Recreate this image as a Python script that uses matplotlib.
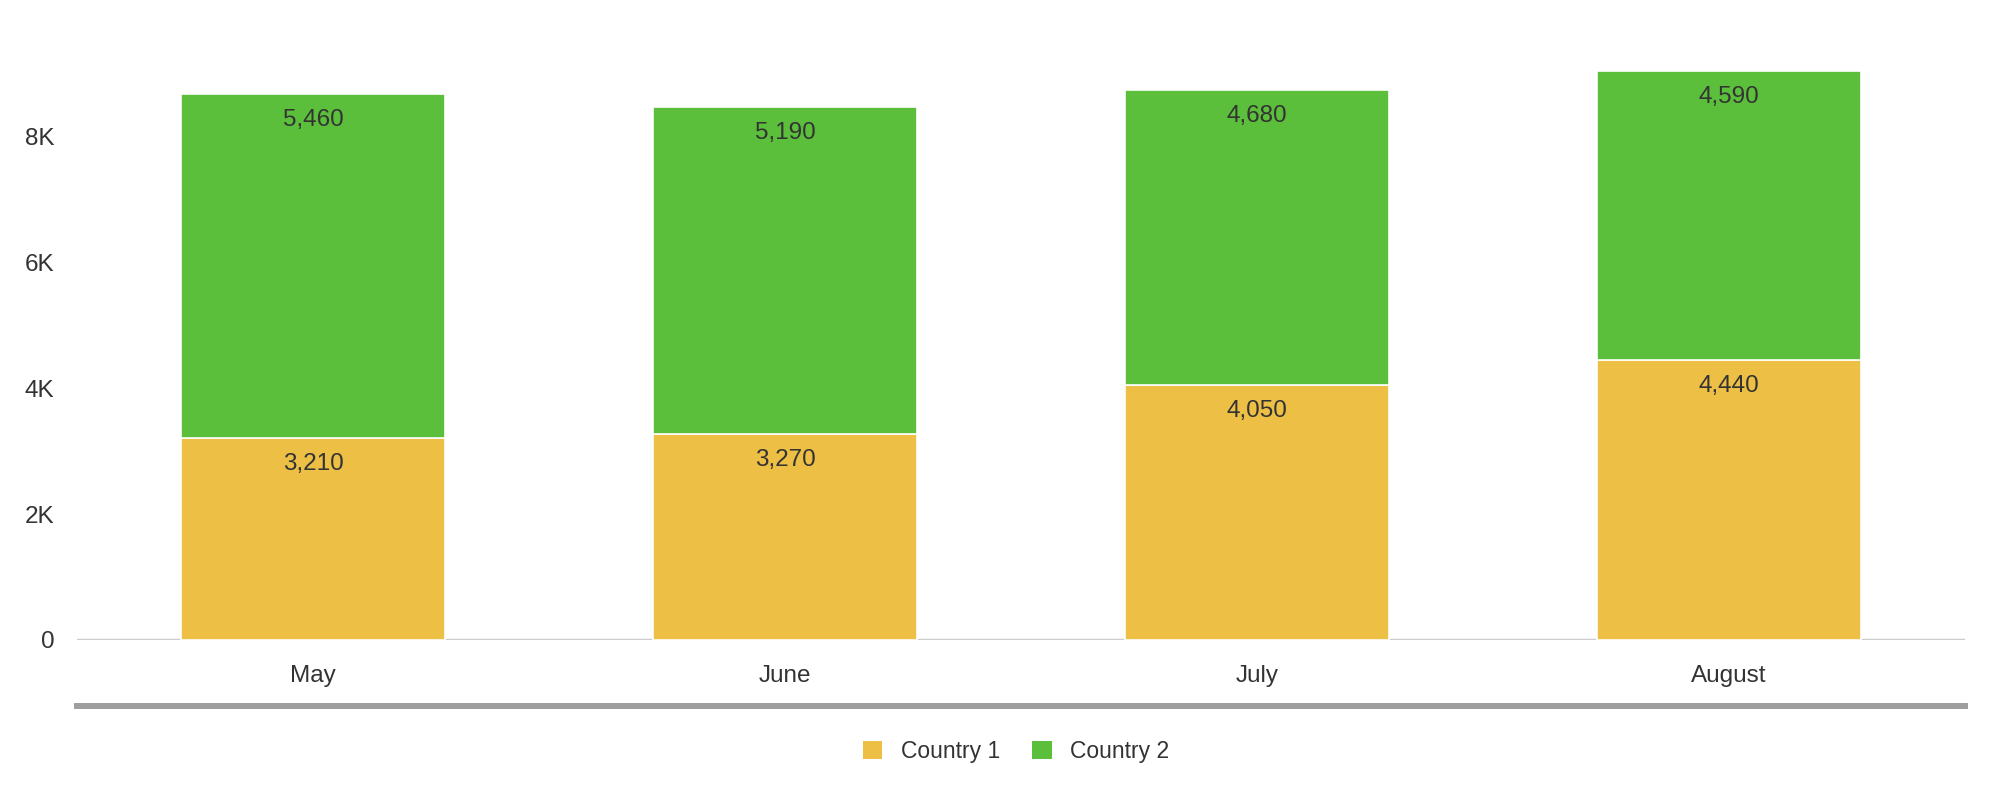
import numpy as np
import matplotlib
matplotlib.use("Agg")
import matplotlib.pyplot as plt
from matplotlib.lines import Line2D
from matplotlib.patches import Patch

months = ["May", "June", "July", "August"]
country1 = [3210, 3270, 4050, 4440]
country2 = [5460, 5190, 4680, 4590]
series_names = ["Country 1", "Country 2"]
yticks = [0, 2000, 4000, 6000, 8000]
ytick_labels = ["0", "2K", "4K", "6K", "8K"]

c1_color = "#EDBF45"
c2_color = "#5BBF3B"
text_color = "#333333"

plt.rcParams['font.family'] = ['Liberation Sans', 'DejaVu Sans']

fig = plt.figure(figsize=(20.04, 7.98), dpi=100)
ax = fig.add_axes([0.0385, 0.198, 0.942, 0.789])

x = np.arange(len(months))
w = 0.56
b1 = ax.bar(x, country1, width=w, color=c1_color, edgecolor="white", linewidth=1.2, zorder=2)
b2 = ax.bar(x, country2, width=w, bottom=country1, color=c2_color, edgecolor="white", linewidth=1.2, zorder=2)

# value labels near the top of each segment
for bars, vals, bottoms in [(b1, country1, [0]*4), (b2, country2, country1)]:
    for rect, v, b in zip(bars, vals, bottoms):
        ax.annotate(f"{v:,}", (rect.get_x() + rect.get_width()/2, b + v),
                    xytext=(0, -18.5), textcoords="offset points",
                    ha="center", va="center", fontsize=17.5, color=text_color, zorder=3)

ax.set_xlim(-0.5, len(months) - 0.5)
ax.set_ylim(0, 10000)
ax.set_yticks(yticks)
ax.set_yticklabels(ytick_labels)
ax.set_xticks(x)
ax.set_xticklabels(months)
ax.tick_params(axis="both", length=0, labelsize=17.5, colors=text_color)
ax.tick_params(axis="x", pad=18)
ax.tick_params(axis="y", pad=16.5)
for s in ax.spines.values():
    s.set_visible(False)
ax.axhline(0, color="#cccccc", linewidth=2.5, zorder=1)

# darker rule under the category labels
pos = ax.get_position()
fig.add_artist(Line2D([pos.x0, pos.x1], [0.115, 0.115], transform=fig.transFigure,
                      color="#9e9e9e", linewidth=4.3))

handles = [Patch(facecolor=c1_color, edgecolor="none"), Patch(facecolor=c2_color, edgecolor="none")]
fig.legend(handles, series_names, loc="center", bbox_to_anchor=(0.507, 0.058), ncol=2,
           frameon=False, fontsize=16.5, handlelength=0.85, handleheight=0.85,
           handletextpad=0.8, columnspacing=1.4, labelcolor=text_color)

fig.savefig("out.png", dpi=100)
